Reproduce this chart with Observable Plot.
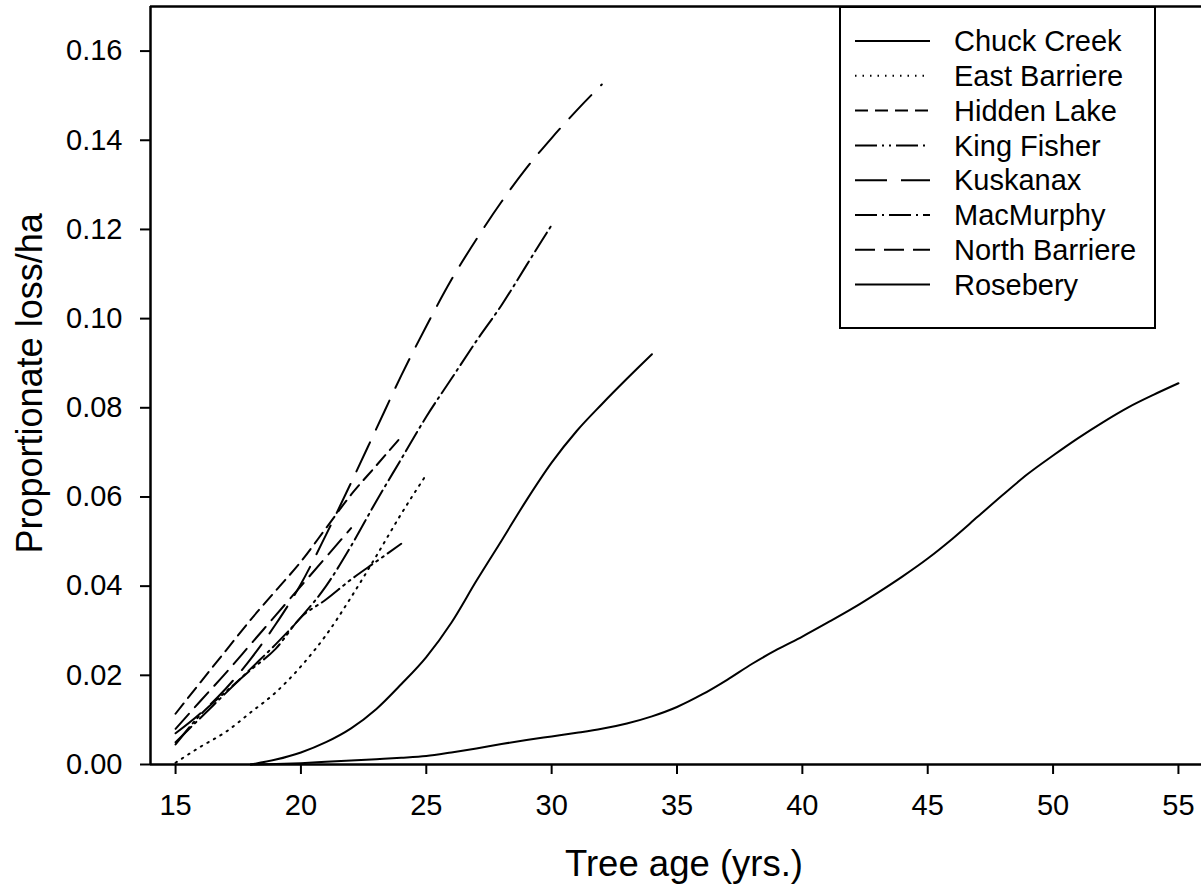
<!DOCTYPE html>
<html><head><meta charset="utf-8">
<script src="https://cdn.jsdelivr.net/npm/d3@7"></script>
<script src="https://cdn.jsdelivr.net/npm/@observablehq/plot@0.6"></script>
<style>
html,body{margin:0;padding:0;background:#fff;}
#wrap{position:relative;width:1201px;height:888px;overflow:hidden;font-family:"Liberation Sans",Arial,sans-serif;}
#legend{position:absolute;left:839px;top:6px;}
</style></head><body><div id="wrap"></div>
<script>
// Site names (legend order) and dash styles
const siteNames = ["Chuck Creek","East Barriere","Hidden Lake","King Fisher","Kuskanax","MacMurphy","North Barriere","Rosebery"];
const siteDash = ["none","1.5,6","13,7","22,5,2,5,2,5","32,14","22,5,2,5","20,9","none"];

// Tree ages (yrs.) where each curve starts
const siteStartAge = [18, 15, 15, 15, 15, 15, 15, 18];

// Proportionate loss/ha, one value per year from the start age
const chuckCreek = [0, 0.0011, 0.0027, 0.005, 0.0081, 0.0124, 0.018, 0.0241, 0.0318, 0.0412, 0.0502, 0.0593, 0.0677, 0.0748, 0.0808, 0.0865, 0.092];
const eastBarriere = [0.0004, 0.004, 0.0073, 0.0117, 0.0162, 0.022, 0.029, 0.0375, 0.0467, 0.0562, 0.065];
const hiddenLake = [0.0114, 0.0185, 0.0255, 0.0325, 0.039, 0.0455, 0.053, 0.0605, 0.067, 0.0735];
const kingFisher = [0.0045, 0.0112, 0.0163, 0.0212, 0.026, 0.033, 0.037, 0.0415, 0.0455, 0.0495];
const kuskanax = [0.007, 0.0115, 0.017, 0.0237, 0.0315, 0.0405, 0.0515, 0.0632, 0.0752, 0.0872, 0.0983, 0.1087, 0.1178, 0.1262, 0.1338, 0.1405, 0.1467, 0.1525];
const macMurphy = [0.005, 0.0105, 0.016, 0.0215, 0.027, 0.033, 0.040, 0.049, 0.059, 0.0685, 0.078, 0.0865, 0.095, 0.103, 0.112, 0.121];
const northBarriere = [0.008, 0.0143, 0.0205, 0.027, 0.0335, 0.040, 0.0465, 0.053];
const rosebery = [0, 0.0001, 0.0003, 0.0006, 0.0009, 0.0012, 0.0015, 0.0019, 0.0027, 0.0036, 0.0046, 0.0055, 0.0063, 0.0071, 0.008, 0.0092, 0.0108, 0.0129, 0.0157, 0.019, 0.0226, 0.0258, 0.0287, 0.0318, 0.035, 0.0385, 0.0422, 0.0462, 0.0507, 0.0556, 0.0605, 0.0652, 0.0693, 0.0732, 0.0768, 0.0801, 0.0829, 0.0855];

const siteValues = [chuckCreek, eastBarriere, hiddenLake, kingFisher, kuskanax, macMurphy, northBarriere, rosebery];

const xTicks = [15, 20, 25, 30, 35, 40, 45, 50, 55];
const yTicks = [0, 0.02, 0.04, 0.06, 0.08, 0.10, 0.12, 0.14, 0.16];
const xTitle = "Tree age (yrs.)";
const yTitle = "Proportionate loss/ha";

const FONT = "Liberation Sans, Arial, sans-serif";

const marks = [];
siteNames.forEach((name, i) => {
  const rows = siteValues[i].map((v, k) => ({site: name, age: siteStartAge[i] + k, loss: v}));
  marks.push(Plot.line(rows, {x: "age", y: "loss", stroke: "#000", strokeWidth: 2, curve: "monotone-x",
    strokeDasharray: siteDash[i] === "none" ? undefined : siteDash[i]}));
});

const chart = Plot.plot({
  width: 1201, height: 888,
  marginLeft: 150, marginRight: 0, marginTop: 6, marginBottom: 124,
  x: {domain: [14, 55.92]},
  y: {domain: [0, 0.17]},
  style: {fontFamily: FONT, fontSize: "29px", color: "#000", background: "#fff"},
  marks: [
    Plot.axisX({ticks: xTicks, tickSize: 10, tickPadding: 20, strokeWidth: 2, label: null, fontSize: 29, tickFormat: d => String(d)}),
    Plot.axisY({ticks: yTicks, tickSize: 10, tickPadding: 18, strokeWidth: 2, label: null, fontSize: 29, tickFormat: d3.format(".2f")}),
    Plot.ruleY([0], {stroke: "#000", strokeWidth: 2.5}),
    Plot.ruleX([14], {stroke: "#000", strokeWidth: 2.5}),
    Plot.ruleY([0.17], {stroke: "#000", strokeWidth: 2.5}),
    ...marks,
    Plot.text([xTitle], {frameAnchor: "bottom", text: d => d, dy: 100, dx: 8, fontSize: 36.5, lineAnchor: "middle", fill: "#000"}),
    Plot.text([yTitle], {frameAnchor: "left", text: d => d, dx: -120, dy: 168, rotate: -90, fontSize: 36, textAnchor: "start", lineAnchor: "middle", fill: "#000"})
  ]
});
document.getElementById("wrap").appendChild(chart);

// Legend box
const lg = d3.select("#wrap").append("svg").attr("id", "legend")
  .attr("width", 318).attr("height", 324);
lg.append("rect").attr("x", 1).attr("y", 1).attr("width", 315).attr("height", 321)
  .attr("fill", "#fff").attr("stroke", "#000").attr("stroke-width", 2);
siteNames.forEach((name, i) => {
  const cy = 35 + i * 34.8;
  lg.append("line").attr("x1", 16).attr("x2", 91).attr("y1", cy).attr("y2", cy)
    .attr("stroke", "#000").attr("stroke-width", 2)
    .attr("stroke-dasharray", siteDash[i] === "none" ? null : siteDash[i]);
  lg.append("text").attr("x", 115).attr("y", cy).attr("dy", "0.35em")
    .attr("font-family", FONT).attr("font-size", 29).attr("fill", "#000").text(name);
});
</script></body></html>
